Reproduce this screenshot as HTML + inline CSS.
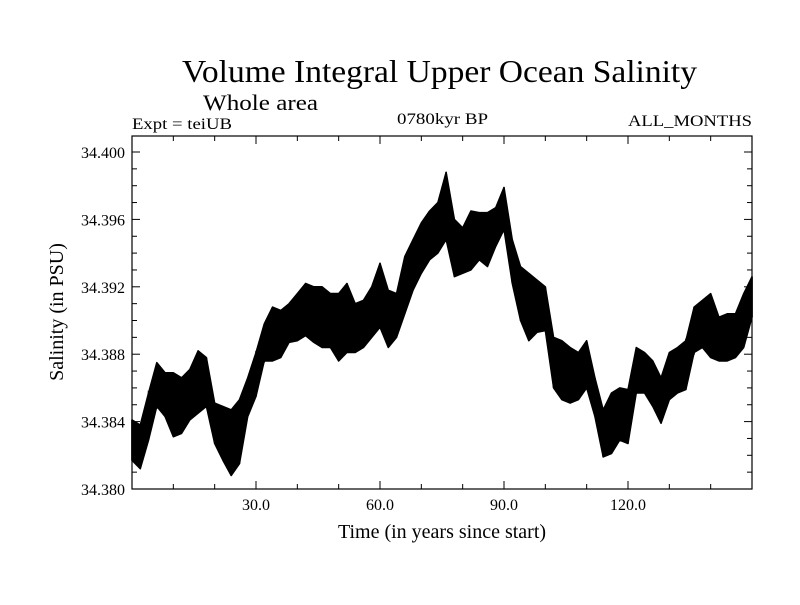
<!DOCTYPE html>
<html><head><meta charset="utf-8"><style>
body{margin:0;background:#fff}
svg text{font-family:"Liberation Serif",serif;fill:#000}
</style></head><body>
<svg id="chart" width="800" height="600" xmlns="http://www.w3.org/2000/svg">
<rect width="800" height="600" fill="#fff"/>
<text x="182" y="82" font-size="32" textLength="515" lengthAdjust="spacingAndGlyphs">Volume Integral Upper Ocean Salinity</text>
<text x="203" y="110" font-size="22" textLength="115" lengthAdjust="spacingAndGlyphs">Whole area</text>
<text x="132" y="129" font-size="16" textLength="100" lengthAdjust="spacingAndGlyphs">Expt = teiUB</text>
<text x="397" y="124" font-size="16" textLength="91" lengthAdjust="spacingAndGlyphs">0780kyr BP</text>
<text x="628" y="126" font-size="16" textLength="124" lengthAdjust="spacingAndGlyphs">ALL_MONTHS</text>
<text x="442" y="538" font-size="20" text-anchor="middle">Time (in years since start)</text>
<text transform="translate(63,312) rotate(-90)" font-size="20" text-anchor="middle">Salinity (in PSU)</text>
<g id="axes"></g>
<g id="series"></g>
</svg>
<script>
const years = [];
for (let t = 0; t <= 150; t += 2) years.push(t);
const hiVals = [34.3841,34.3838,34.3857,34.3875,34.3869,34.3869,34.3866,34.3871,34.3882,34.3878,34.3851,34.3849,34.3847,34.3853,34.3866,34.3881,34.3898,34.3908,34.3906,34.3910,34.3916,34.3922,34.3920,34.3920,34.3916,34.3916,34.3922,34.3910,34.3912,34.3920,34.3934,34.3918,34.3916,34.3938,34.3948,34.3958,34.3965,34.3970,34.3988,34.3960,34.3955,34.3965,34.3964,34.3964,34.3967,34.3979,34.3948,34.3932,34.3928,34.3924,34.3920,34.3890,34.3888,34.3884,34.3881,34.3888,34.3866,34.3847,34.3857,34.3860,34.3859,34.3884,34.3881,34.3876,34.3866,34.3881,34.3884,34.3888,34.3908,34.3912,34.3916,34.3902,34.3904,34.3904,34.3916,34.3926];
const loVals = [34.3817,34.3812,34.3829,34.3849,34.3843,34.3831,34.3833,34.3841,34.3845,34.3849,34.3827,34.3817,34.3808,34.3815,34.3843,34.3855,34.3876,34.3876,34.3878,34.3887,34.3888,34.3891,34.3887,34.3884,34.3884,34.3876,34.3881,34.3881,34.3884,34.3890,34.3896,34.3884,34.3890,34.3904,34.3918,34.3928,34.3936,34.3940,34.3948,34.3926,34.3928,34.3930,34.3936,34.3932,34.3944,34.3954,34.3922,34.3900,34.3888,34.3893,34.3894,34.3860,34.3853,34.3851,34.3853,34.3860,34.3843,34.3819,34.3821,34.3829,34.3827,34.3857,34.3857,34.3849,34.3839,34.3853,34.3857,34.3859,34.3881,34.3884,34.3878,34.3876,34.3876,34.3878,34.3884,34.3902];
const yTicks = [34.380,34.384,34.388,34.392,34.396,34.400];
const yTickLabels = ["34.380","34.384","34.388","34.392","34.396","34.400"];
const xTicks = [30,60,90,120];
const xTickLabels = ["30.0","60.0","90.0","120.0"];

const L=132,R=752,T=136,B=489;
const xMin=0,xMax=150,yMin=34.380,yMax=34.40095;
const sx=v=>L+(v-xMin)/(xMax-xMin)*(R-L);
const sy=v=>B-(v-yMin)/(yMax-yMin)*(B-T);
const NS="http://www.w3.org/2000/svg";
const ax=document.getElementById('axes');
function mk(tag,attrs,parent){const e=document.createElementNS(NS,tag);for(const k in attrs)e.setAttribute(k,attrs[k]);parent.appendChild(e);return e;}

const frame=mk('rect',{x:L,y:T,width:R-L,height:B-T,fill:'none',stroke:'#000','stroke-width':1.2},ax);


// minor x ticks every 10 yrs
for(let t=10;t<150;t+=10){
  const major=t%30===0, len=major?8:5;
  const a=mk('line',{x1:sx(t),x2:sx(t),y1:B,y2:B-len,stroke:'#000'},ax);
  
  
  const b=mk('line',{x1:sx(t),x2:sx(t),y1:T,y2:T+len,stroke:'#000'},ax);
  
  
}
xTicks.forEach((t,i)=>{
  const tx=mk('text',{x:sx(t),y:510,'font-size':16,'text-anchor':'middle'},ax);
  tx.textContent=xTickLabels[i];
  
  
});
for(let k=1;k<21;k++){
  const v=yMin+k*0.001, major=k%4===0, len=major?8:5;
  const a=mk('line',{x1:L,x2:L+len,y1:sy(v),y2:sy(v),stroke:'#000'},ax);
  
  
  const b=mk('line',{x1:R,x2:R-len,y1:sy(v),y2:sy(v),stroke:'#000'},ax);
  
  
}
yTicks.forEach((v,i)=>{
  const tx=mk('text',{x:125,y:sy(v)+6,'font-size':16,'text-anchor':'end'},ax);
  tx.textContent=yTickLabels[i];
  
  
});

const sg=document.getElementById('series');
let pts=years.map((t,i)=>sx(t)+','+sy(hiVals[i]));
for(let i=years.length-1;i>=0;i--)pts.push(sx(years[i])+','+sy(loVals[i]));
const band=mk('polygon',{points:pts.join(' '),fill:'#000',stroke:'#000','stroke-width':1.5,'stroke-linejoin':'round'},sg);


// spiky texture: alternate between hi and lo at each data point
let z=[];
years.forEach((t,i)=>{z.push(sx(t)+','+sy(loVals[i]));z.push(sx(t)+','+sy(hiVals[i]));});
const zz=mk('polyline',{points:z.join(' '),fill:'none',stroke:'#000','stroke-width':1.5},sg);


</script>
</body></html>
